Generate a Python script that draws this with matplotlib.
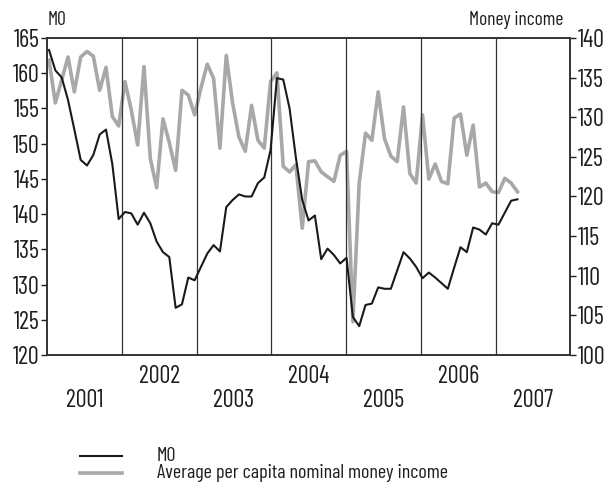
import matplotlib
matplotlib.use("Agg")
import matplotlib.pyplot as plt
from matplotlib import font_manager as fm
from matplotlib.lines import Line2D
import numpy as np

# ---- data ----
m0 = [163.3, 160.4, 159.4, 156.2, 152.0, 147.7, 146.9, 148.4, 151.3, 152.0,
      147.1, 139.3, 140.3, 140.1, 138.5, 140.2, 138.7, 136.1, 134.6, 133.9,
      126.7, 127.2, 131.0, 130.6, 132.5, 134.4, 135.6, 134.7, 141.0, 142.0,
      142.8, 142.5, 142.5, 144.4, 145.2, 149.1, 159.3, 159.1, 155.0, 148.0,
      142.0, 139.1, 139.8, 133.6, 135.1, 134.2, 133.0, 133.8, 125.4, 124.1,
      127.1, 127.3, 129.6, 129.4, 129.4, 132.0, 134.6, 133.7, 132.5, 130.9,
      131.7, 131.0, 130.2, 129.4, 132.4, 135.3, 134.6, 138.1, 137.8, 137.1,
      138.7, 138.5, 140.2, 141.9, 142.1]
income = [137.2, 131.8, 134.7, 137.6, 133.2, 137.6, 138.3, 137.7, 133.4, 136.3,
          130.1, 128.9, 134.5, 130.9, 126.5, 136.4, 124.8, 121.1, 129.8, 126.8,
          123.3, 133.4, 132.8, 130.3, 133.7, 136.7, 134.9, 126.1, 137.8, 131.8,
          127.5, 125.7, 131.5, 127.1, 126.1, 134.5, 135.6, 123.8, 123.1, 124.0,
          116.0, 124.4, 124.5, 123.1, 122.5, 121.9, 125.2, 125.7, 104.2, 121.7,
          128.0, 127.1, 133.2, 127.3, 125.1, 124.4, 131.3, 122.9, 121.7, 130.3,
          122.2, 124.1, 121.9, 121.6, 129.9, 130.4, 125.2, 129.0, 121.2, 121.7,
          120.6, 120.5, 122.3, 121.7, 120.6]
years = ["2001", "2002", "2003", "2004", "2005", "2006", "2007"]
year_bounds = [11.49, 23.3, 35.1, 46.9, 58.8, 70.6]
left_ticks = [120, 125, 130, 135, 140, 145, 150, 155, 160, 165]
right_ticks = [100, 105, 110, 115, 120, 125, 130, 135, 140]
series_names = ["M0", "Average per capita nominal money income"]

# ---- font choice ----
names = {f.name for f in fm.fontManager.ttflist}
FONT = 'DejaVu Sans'
for cand in ['Barlow Condensed', 'Roboto Condensed', 'Archivo Narrow']:
    if cand in names:
        FONT = cand
        break
plt.rcParams['font.family'] = [FONT, 'DejaVu Sans']

BLACK = "#1a1a1a"
GRAY = "#a8a8a8"
TXT = "#1e1e1e"
x = np.arange(len(m0))
xlim = (-0.32, 82.3)

fig = plt.figure(figsize=(6.07, 4.97), dpi=100)
ax = fig.add_axes([47/607, 1-355/497, (570-47)/607, (355-38)/497])
ax2 = ax.twinx()

ax.plot(x, m0, color=BLACK, lw=1.5, zorder=3)
ax2.plot(x, income, color=GRAY, lw=2.6, zorder=2)
ax.set_zorder(ax2.get_zorder() + 1)
ax.patch.set_visible(False)

for b in year_bounds:
    ax.axvline(b, color="#333333", lw=0.9, zorder=1)

ax.set_xlim(*xlim)
ax.set_ylim(120, 165)
ax2.set_ylim(100, 140)
ax.set_yticks(left_ticks)
ax2.set_yticks(right_ticks)
ax.set_xticks([])
fs = 17.5
ax.tick_params(axis='y', labelsize=fs, length=4, width=1, colors=TXT, pad=1.5)
ax2.tick_params(axis='y', labelsize=fs, length=4, width=1, colors=TXT, pad=1.5)
for a in (ax, ax2):
    for s in a.spines.values():
        s.set_color("#333333")
        s.set_linewidth(1.2)

bounds = [xlim[0]] + year_bounds + [xlim[1]]
for i, yr in enumerate(years):
    c = (bounds[i] + bounds[i+1]) / 2
    yy = -0.068 if i % 2 == 1 else -0.145
    ax.text(c, yy, yr, transform=ax.get_xaxis_transform(), ha='center', va='center',
            fontsize=fs, color=TXT)

fig.text(48/607, 1-20/497, "M0", fontsize=14, ha='left', va='center', color=TXT)
fig.text(563/607, 1-20/497, "Money income", fontsize=14, ha='right', va='center', color=TXT)

# legend drawn below the plot
fig.add_artist(Line2D([80/607, 122/607], [1-456/497, 1-456/497], color=BLACK, lw=1.5))
fig.add_artist(Line2D([80/607, 122/607], [1-473/497, 1-473/497], color=GRAY, lw=2.6))
fig.text(157/607, 1-456/497, series_names[0], fontsize=14.5, ha='left', va='center', color=TXT)
fig.text(157/607, 1-473/497, series_names[1], fontsize=14.5, ha='left', va='center', color=TXT)

fig.savefig("out.png", dpi=100)
